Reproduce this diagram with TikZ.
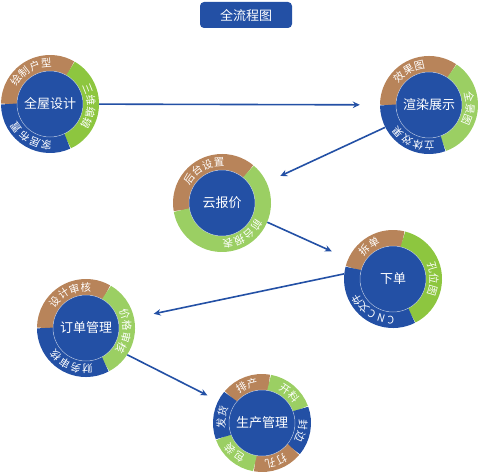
\documentclass[tikz,border=0pt]{standalone}
\usepackage{fontspec}
\setmainfont{Noto Sans CJK SC}
\usetikzlibrary{arrows.meta,calc}
\definecolor{mblue}{HTML}{2350A5}
\definecolor{mbrown}{HTML}{B8845A}
\definecolor{mgreenA}{HTML}{8DC63F}
\definecolor{mgreenB}{HTML}{9BCF63}
\tikzset{
  hub/.style={circle, fill=mblue, draw=white, draw opacity=0.55, line width=0.5pt,
    minimum size=66pt, inner sep=0pt, text=white, font=\fontsize{13}{15}\selectfont},
  rim/.style={circle, minimum size=98pt, inner sep=0pt},
  seg/.style={line width=16pt},
  rlbl/.style={text=white, inner sep=0pt, font=\fontsize{10.5}{10.5}\selectfont},
  flow/.style={draw=mblue, line width=1.6pt, -{Stealth[length=7pt,width=6.5pt]}},
  titlebox/.style={rectangle, fill=mblue, rounded corners=4pt, minimum width=92pt,
    minimum height=26pt, text=white, font=\fontsize{13}{15}\selectfont},
}
\newcommand\ringseg[4]{%
  \draw[seg, #2] ($(#1)+(#3:41pt)$) arc[start angle=#3, end angle=#4, radius=41pt];
}
\newcommand\ringtext[5]{% center, tag, mid angle, spacing, chars
  \foreach \rc [count=\i] in {#5} {\xdef\rtn{\i}}%
  \foreach \rc [count=\i] in {#5} {
    \pgfmathsetmacro\ang{#3+((\rtn+1)/2-\i)*#4}
    \node[rlbl, rotate=\ang-90] (#1#2\i) at ($(#1)+(\ang:41pt)$) {\rc};
  }
}
\begin{document}
\begin{tikzpicture}[x=1pt,y=1pt]
\useasboundingbox (0,0) rectangle (481,475);
% title
\node[titlebox] (title) at (246,460) {全流程图};
% rim nodes
\node[rim] (r1) at (50,371) {};
\node[rim] (r2) at (429,370) {};
\node[rim] (r3) at (222,272) {};
\node[rim] (r4) at (393,196) {};
\node[rim] (r5) at (86,147) {};
\node[rim] (r6) at (262,52) {};
% ring segments
\ringseg{r1}{mbrown}{60}{180}
\ringseg{r1}{mgreenA}{-65}{60}
\ringseg{r1}{mblue}{180}{295}
\ringseg{r2}{mbrown}{56}{180}
\ringseg{r2}{mgreenB}{-70}{56}
\ringseg{r2}{mblue}{180}{290}
\ringseg{r3}{mbrown}{50}{190}
\ringseg{r3}{mgreenB}{-170}{50}
\ringseg{r4}{mbrown}{76}{165}
\ringseg{r4}{mgreenA}{-63}{76}
\ringseg{r4}{mblue}{165}{297}
\ringseg{r5}{mbrown}{60}{180}
\ringseg{r5}{mgreenB}{-62}{60}
\ringseg{r5}{mblue}{180}{298}
\ringseg{r6}{mbrown}{80}{140}
\ringseg{r6}{mgreenB}{20}{80}
\ringseg{r6}{mblue}{-40}{20}
\ringseg{r6}{mbrown}{-100}{-40}
\ringseg{r6}{mgreenB}{-160}{-100}
\ringseg{r6}{mblue}{140}{200}
% hubs
\node[hub] (h1) at (r1) {全屋设计};
\node[hub] (h2) at (r2) {渲染展示};
\node[hub] (h3) at (r3) {云报价};
\node[hub] (h4) at (r4) {下单};
\node[hub] (h5) at (r5) {订单管理};
\node[hub] (h6) at (r6) {生产管理};
% ring labels
\ringtext{r1}{a}{120}{16.5}{绘,制,户,型}
\ringtext{r1}{b}{-3}{16.5}{三,维,编,辑}
\ringtext{r1}{c}{-120}{16.5}{家,居,布,置}
\ringtext{r2}{a}{120}{16.5}{效,果,图}
\ringtext{r2}{b}{-5}{16.5}{全,景,图}
\ringtext{r2}{c}{-114}{16.5}{立,体,效,果}
\ringtext{r3}{a}{119}{16.5}{后,台,设,置}
\ringtext{r3}{b}{-57}{16.5}{前,台,报,表}
\ringtext{r4}{a}{126}{16.5}{拆,单}
\ringtext{r4}{b}{0}{16.5}{孔,位,图}
\ringtext{r4}{c}{-121}{14}{C,N,C,文,件}
\ringtext{r5}{a}{115}{16.5}{设,计,审,核}
\ringtext{r5}{b}{-5}{16.5}{价,格,审,核}
\ringtext{r5}{c}{-113}{16.5}{财,务,审,核}
\ringtext{r6}{a}{112}{16.5}{排,产}
\ringtext{r6}{b}{48}{16.5}{开,料}
\ringtext{r6}{c}{-11}{16.5}{封,边}
\ringtext{r6}{d}{-70}{16.5}{打,孔}
\ringtext{r6}{e}{-132}{16.5}{包,装}
\ringtext{r6}{f}{172}{16.5}{发,货}
% connectors
\draw[flow, shorten >=20pt] (r1) -- (r2);
\draw[flow, shorten >=15pt] (r2.207) -- (r3);
\draw[flow, shorten >=18pt] (r3.-23) -- (r4);
\draw[flow, shorten >=20pt] (r4.174) -- (r5);
\draw[flow, shorten >=12pt] (r5.-33) -- (r6);
\end{tikzpicture}
\end{document}
